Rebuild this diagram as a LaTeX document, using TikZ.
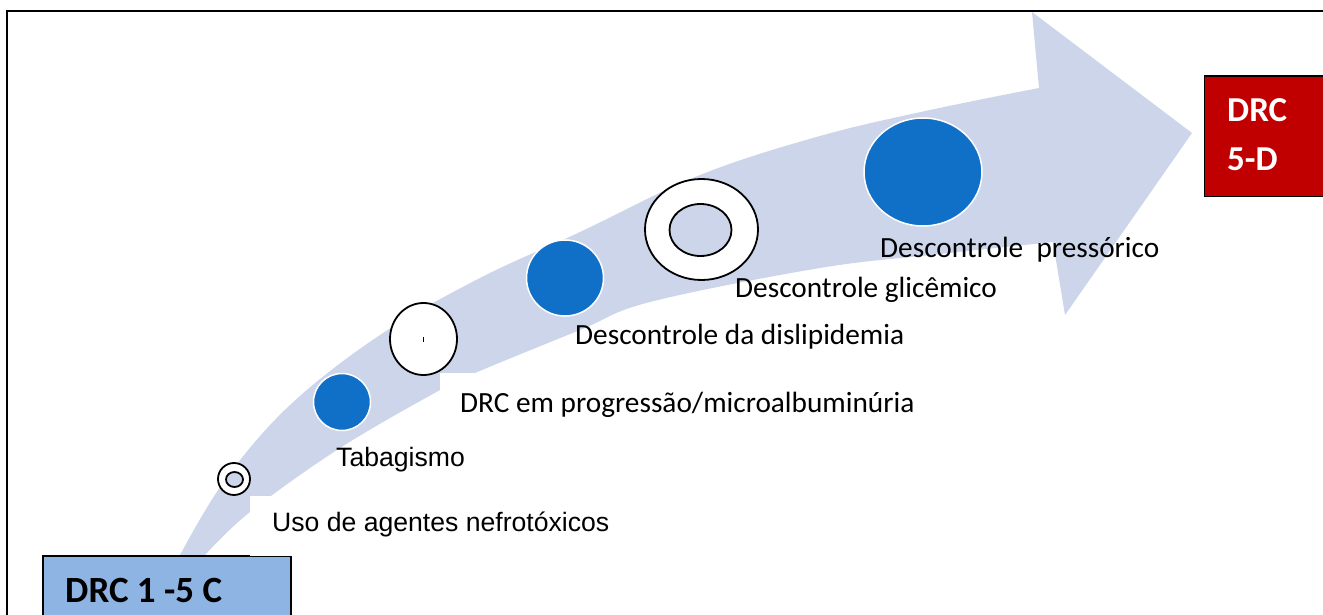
\documentclass[tikz,border=0pt]{standalone}
\usepackage{fontspec}
\setmainfont{Carlito}
\newfontfamily\arialf{Liberation Sans}
\usetikzlibrary{shapes.geometric}
\definecolor{arrowblue}{RGB}{205,213,234}
\definecolor{dotblue}{RGB}{16,111,198}
\definecolor{boxblue}{RGB}{142,180,227}
\definecolor{boxred}{RGB}{192,0,0}
\begin{document}
\begin{tikzpicture}[x=1pt,y=-1pt,
  lab/.style={anchor=base west,inner sep=0pt,font=\fontsize{29.3}{33}\selectfont},
  labA/.style={anchor=base west,inner sep=0pt,font=\arialf\fontsize{26.6}{30}\selectfont},
  boxtext/.style={anchor=base west,inner sep=0pt,font=\fontsize{37}{40}\selectfont\bfseries},
  bluedot/.style={ellipse,draw=white,line width=1.5pt,fill=dotblue,inner sep=0pt},
  whitedot/.style={ellipse,draw=black,line width=1.8pt,fill=white,inner sep=0pt},
  ring/.style={draw=black,line width=1.8pt,fill=white,even odd rule}]
\useasboundingbox (0,0) rectangle (1323,615);
\clip (0,0) rectangle (1323,615);
\fill[white] (0,0) rectangle (1323,615);
% curved arrow
\fill[arrowblue] plot[smooth,tension=0.6] coordinates {(180,555) (225,480) (290,405) (380,335) (480,278) (580,232) (700,175) (820,136) (930,110) (1039,88)}
  -- (1032,12) -- (1192,133) -- (1065,315)
  -- plot[smooth,tension=0.6] coordinates {(1053,242) (940,254) (820,268) (650,302) (580,330) (475,373) (440,390) (340,448) (250,512) (205,555)} -- cycle;
% boxes
\node[draw=black,line width=1.5pt,fill=boxblue,anchor=north west,minimum width=248pt,minimum height=90pt,inner sep=0pt] (b1) at (42,555) {};
\node[draw=black,line width=1.5pt,fill=boxred,anchor=north west,minimum width=140pt,minimum height=120pt,inner sep=0pt] (b2) at (1203.5,75.5) {};
% white label backgrounds
\fill[white] (250,496) rectangle (625,556);
\fill[white] (440,373) rectangle (925,432);
% markers
\filldraw[ring] (234,479) ellipse[x radius=16,y radius=16] (234.5,479.5) ellipse[x radius=8.5,y radius=7.5];
\node[bluedot,minimum width=57pt,minimum height=57pt] (c2) at (342,402) {};
\node[whitedot,minimum width=67pt,minimum height=72pt] (c3) at (423.5,339) {};
\draw[line width=1.8pt] (423.5,336.5) -- (423.5,342);
\node[bluedot,minimum width=77pt,minimum height=76pt] (c4) at (565,278) {};
\filldraw[ring] (701.5,229.5) ellipse[x radius=56.5,y radius=50.5] (700.5,230) ellipse[x radius=31,y radius=26];
\node[bluedot,minimum width=118pt,minimum height=108pt] (c6) at (923,172) {};
% texts
\node[boxtext] (t1) at (65,602) {DRC 1 -5 C};
\node[boxtext,text=white,font=\fontsize{35}{40}\selectfont\bfseries] (t2a) at (1227,122) {DRC};
\node[boxtext,text=white,font=\fontsize{35}{40}\selectfont\bfseries] (t2b) at (1227,171) {5-D};
\node[labA] (l1) at (272,531) {Uso de agentes nefrotóxicos};
\node[labA] (l2) at (336,466) {Tabagismo};
\node[lab] (l3) at (460,412) {DRC em progressão/microalbuminúria};
\node[lab] (l4) at (575,344) {Descontrole da dislipidemia};
\node[lab] (l5) at (735,297) {Descontrole glicêmico};
\node[lab] (l6) at (880,257) {Descontrole\ \ pressórico};
% frame
\draw[line width=2.5pt] (7,640) -- (7,11) -- (1323,11);
\end{tikzpicture}
\end{document}
